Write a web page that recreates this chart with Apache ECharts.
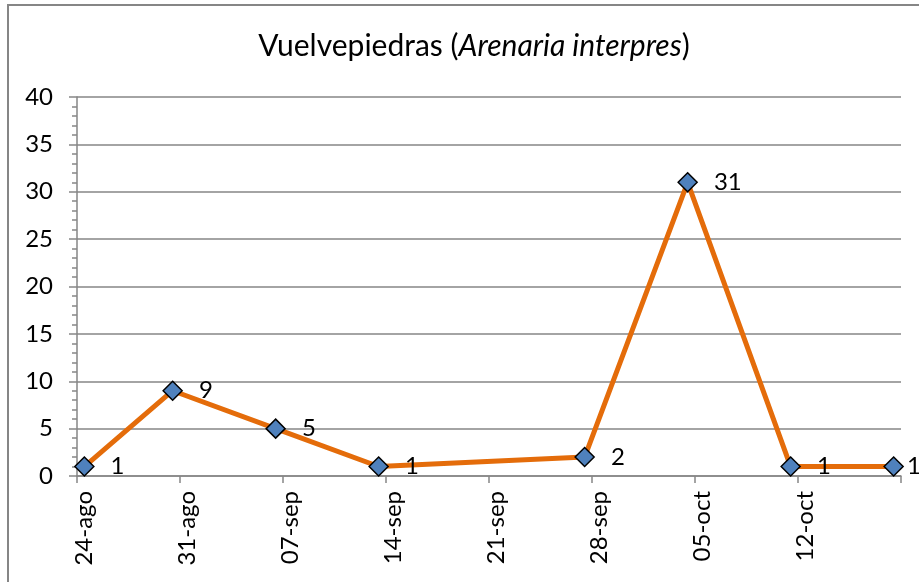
<!DOCTYPE html>
<html>
<head>
<meta charset="utf-8">
<script src="https://cdn.jsdelivr.net/npm/echarts@6/dist/echarts.min.js"></script>
<style>
html, body { margin: 0; padding: 0; background: #fff; }
#main { width: 919px; height: 582px; }
</style>
</head>
<body>
<div id="main"></div>
<script>
// observation dates and counts
var obsDates = ['24-ago', '30-ago', '06-sep', '13-sep', '27-sep', '04-oct', '11-oct', '18-oct'];
var counts = [1, 9, 5, 1, 2, 31, 1, 1];
// weekly tick labels on the date axis
var tickLabels = ['24-ago', '31-ago', '07-sep', '14-sep', '21-sep', '28-sep', '05-oct', '12-oct'];
var monthNames = ['ene', 'feb', 'mar', 'abr', 'may', 'jun', 'jul', 'ago', 'sep', 'oct', 'nov', 'dic'];
var yTicks = [0, 5, 10, 15, 20, 25, 30, 35, 40];

var FONT = 'Lato';

// daily category axis from 24-ago to 18-oct
var days = [];
var d = new Date(2013, 7, 24);
for (var i = 0; i < 56; i++) {
    var dd = d.getDate();
    days.push((dd < 10 ? '0' + dd : '' + dd) + '-' + monthNames[d.getMonth()]);
    d.setDate(d.getDate() + 1);
}

var seriesData = days.map(function (day, idx) {
    var k = obsDates.indexOf(day);
    if (k < 0) return null;
    // last label sits tight against the right edge
    if (idx === days.length - 1) {
        return { value: counts[k], label: { distance: 3 } };
    }
    return counts[k];
});

var chart = echarts.init(document.getElementById('main'));
chart.setOption({
    backgroundColor: '#fff',
    animation: false,
    title: {
        text: 'Vuelvepiedras ({i|Arenaria interpres})',
        left: 469,
        top: 26,
        textAlign: 'center',
        textStyle: {
            fontFamily: FONT,
            fontSize: 30,
            fontWeight: 'normal',
            color: '#000',
            rich: {
                i: { fontFamily: FONT, fontSize: 30, fontStyle: 'italic', color: '#000' }
            }
        }
    },
    graphic: [{
        type: 'rect',
        shape: { x: 8, y: 5, width: 940, height: 600 },
        style: { fill: 'none', stroke: '#868686', lineWidth: 2 },
        silent: true
    }],
    grid: {
        left: 77,
        right: 18,
        top: 97,
        bottom: 106
    },
    xAxis: {
        type: 'category',
        data: days,
        boundaryGap: true,
        axisLine: { lineStyle: { color: '#868686', width: 1.5 } },
        axisTick: {
            show: true,
            interval: 6,
            length: 7,
            lineStyle: { color: '#868686', width: 1.5 }
        },
        axisLabel: {
            interval: 6,
            rotate: 90,
            margin: 15,
            fontFamily: FONT,
            fontSize: 24,
            color: '#000',
            formatter: function (v) {
                return tickLabels.indexOf(v) >= 0 ? v : '';
            }
        },
        splitLine: { show: false }
    },
    yAxis: {
        type: 'value',
        min: yTicks[0],
        max: yTicks[yTicks.length - 1],
        interval: 5,
        axisLine: { show: true, lineStyle: { color: '#868686', width: 1.5 } },
        axisTick: { show: true, length: 8, lineStyle: { color: '#868686', width: 1.5 } },
        minorTick: { show: true, splitNumber: 5, length: 5, lineStyle: { color: '#868686', width: 1.5 } },
        axisLabel: {
            margin: 24,
            fontFamily: FONT,
            fontSize: 24,
            color: '#000'
        },
        splitLine: { show: true, lineStyle: { color: '#868686', width: 1.5 } }
    },
    series: [{
        type: 'line',
        data: seriesData,
        connectNulls: true,
        showSymbol: true,
        showAllSymbol: true,
        symbol: 'diamond',
        symbolSize: 19,
        lineStyle: { color: '#E46C0A', width: 5 },
        itemStyle: { color: '#4F81BD', borderColor: '#000', borderWidth: 1.5 },
        label: {
            show: true,
            position: 'right',
            distance: 16,
            fontFamily: FONT,
            fontSize: 24,
            color: '#000'
        },
        z: 3
    }]
});
</script>
</body>
</html>
